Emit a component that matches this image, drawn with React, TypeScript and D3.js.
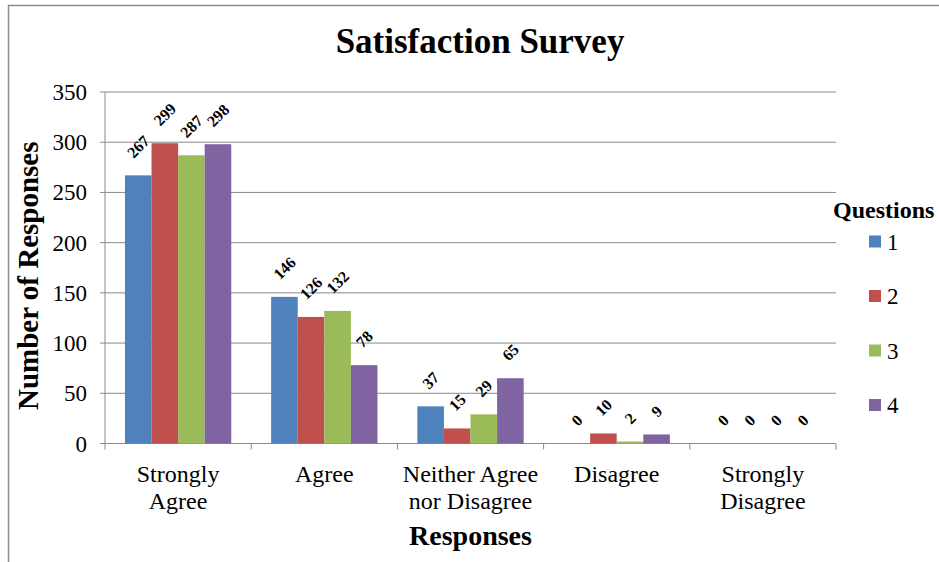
import * as d3 from "d3";

const categories = [
  ["Strongly", "Agree"],
  ["Agree"],
  ["Neither Agree", "nor Disagree"],
  ["Disagree"],
  ["Strongly", "Disagree"],
];
const questions = ["1", "2", "3", "4"];
const q1 = [267, 146, 37, 0, 0];
const q2 = [299, 126, 15, 10, 0];
const q3 = [287, 132, 29, 2, 0];
const q4 = [298, 78, 65, 9, 0];
const yTicks = [0, 50, 100, 150, 200, 250, 300, 350];
const colors = ["#4F81BD", "#C0504D", "#9BBB59", "#8064A2"];

const W = 939;
const H = 562;
const FONT = "Liberation Serif, Times New Roman, serif";

export default function App() {
  const series = [q1, q2, q3, q4];
  const catIdx = categories.map((_, i) => String(i));

  const x0 = d3.scaleBand().domain(catIdx).range([105, 836]).padding(0);
  const x1 = d3
    .scaleBand()
    .domain(questions)
    .range([0, x0.bandwidth()])
    .paddingInner(0)
    .paddingOuter(0.75);
  const y = d3.scaleLinear().domain([0, 350]).range([443.5, 92]);

  const boundaries = catIdx.map((c) => x0(c)!).concat([836]);

  return (
    <svg
      width={W}
      height={H}
      style={{ position: "absolute", left: 0, top: 0, background: "#fff", fontFamily: FONT }}
    >
      {/* chart frame */}
      <rect x={8.5} y={5.5} width={W + 20} height={H + 20} fill="#fff" stroke="#8c8c8c" strokeWidth={1.5} />

      <text x={480} y={53} textAnchor="middle" fontSize={35} fontWeight="bold">
        Satisfaction Survey
      </text>

      {/* gridlines */}
      {yTicks.map((t) => (
        <line key={"g" + t} x1={100} x2={836} y1={y(t)} y2={y(t)} stroke="#8a8a8a" strokeWidth={1} />
      ))}
      {yTicks.map((t) => (
        <text key={"yl" + t} x={87} y={y(t)} dy="0.35em" textAnchor="end" fontSize={23}>
          {t}
        </text>
      ))}
      <line x1={105} x2={105} y1={y(350)} y2={y(0)} stroke="#8a8a8a" />

      {/* x ticks */}
      {boundaries.map((b, i) => (
        <line key={"xt" + i} x1={b} x2={b} y1={y(0)} y2={y(0) + 6} stroke="#8a8a8a" />
      ))}

      {/* bars */}
      {series.map((vals, si) =>
        vals.map((v, ci) => (
          <rect
            key={`b${si}-${ci}`}
            x={x0(String(ci))! + x1(questions[si])!}
            y={y(v)}
            width={x1.bandwidth()}
            height={y(0) - y(v)}
            fill={colors[si]}
          />
        ))
      )}

      {/* data labels */}
      {series.map((vals, si) =>
        vals.map((v, ci) => {
          const cx = x0(String(ci))! + x1(questions[si])! + x1.bandwidth() / 2;
          const n = String(v).length;
          const cy = y(v) - (16.5 + (8 * n + 11) / 2.83);
          return (
            <text
              key={`l${si}-${ci}`}
              transform={`translate(${cx},${cy}) rotate(-45)`}
              textAnchor="middle"
              dy="0.35em"
              fontSize={16}
              fontWeight="bold"
            >
              {v}
            </text>
          );
        })
      )}

      {/* category labels */}
      {categories.map((lines, ci) => (
        <text
          key={"c" + ci}
          x={x0(String(ci))! + x0.bandwidth() / 2}
          y={482}
          textAnchor="middle"
          fontSize={24}
        >
          {lines.map((l, li) => (
            <tspan key={li} x={x0(String(ci))! + x0.bandwidth() / 2} dy={li === 0 ? 0 : 27}>
              {l}
            </tspan>
          ))}
        </text>
      ))}

      <text x={470.5} y={545} textAnchor="middle" fontSize={28} fontWeight="bold">
        Responses
      </text>
      <text
        transform={`translate(38,${(y(0) + y(350)) / 2 + 8}) rotate(-90)`}
        textAnchor="middle"
        fontSize={29}
        fontWeight="bold"
      >
        Number of Responses
      </text>

      {/* legend */}
      <text x={833} y={218} fontSize={24} fontWeight="bold">
        Questions
      </text>
      {questions.map((q, i) => (
        <g key={"lg" + q} transform={`translate(869,${241.5 + i * 54.5})`}>
          <rect x={0} y={-6} width={12} height={12} fill={colors[i]} />
          <text x={18} y={0} dy="0.35em" fontSize={23}>
            {q}
          </text>
        </g>
      ))}
    </svg>
  );
}
